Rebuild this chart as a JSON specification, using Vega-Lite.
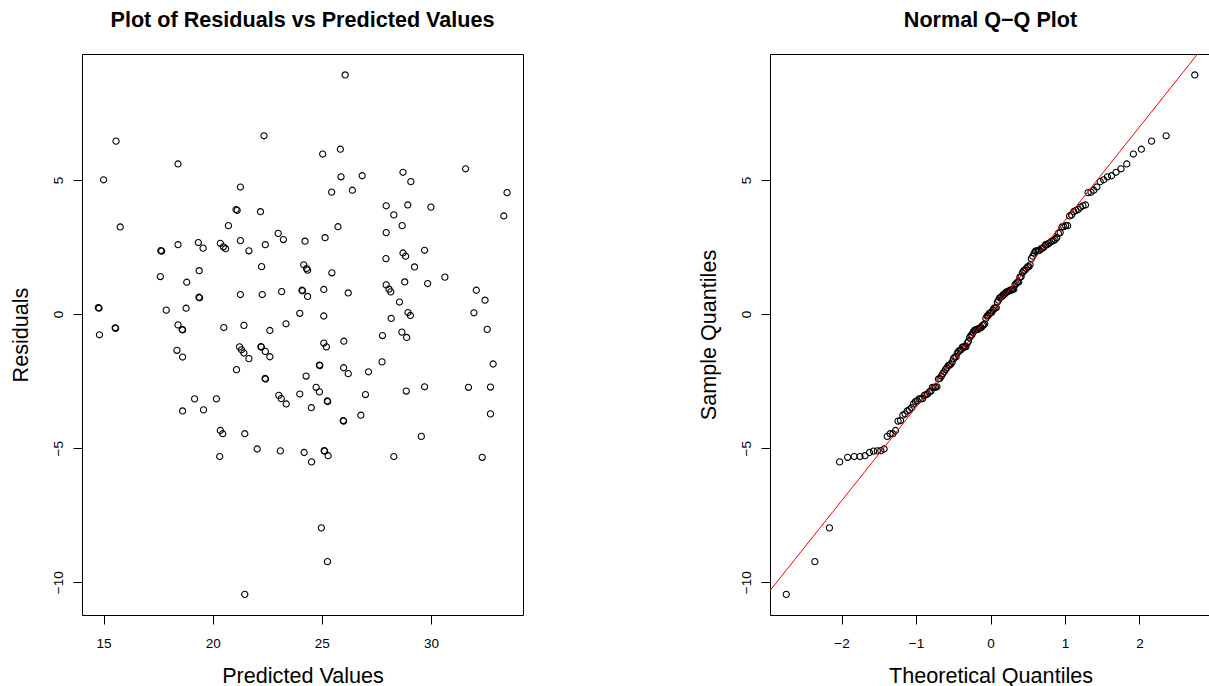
{
  "$schema": "https://vega.github.io/schema/vega-lite/v6.json",
  "background": "white",
  "padding": {"left": 9, "top": 9, "right": 0, "bottom": 0},
  "bounds": "flush",
  "spacing": 247,
  "config": {
    "font": "Liberation Sans",
    "view": {"stroke": "black", "strokeWidth": 1},
    "title": {"font": "Liberation Sans", "fontSize": 21.6, "fontWeight": "bold", "color": "black", "anchor": "middle", "baseline": "alphabetic", "offset": 22},
    "axis": {"domain": false, "grid": false, "ticks": true, "tickColor": "black", "tickWidth": 1, "tickSize": 9, "labelFont": "Liberation Sans", "labelFontSize": 13.5, "labelColor": "black", "labelFlush": false, "labelOverlap": false, "labelBound": false, "titleFont": "Liberation Sans", "titleFontSize": 21.6, "titleFontWeight": "normal", "titleColor": "black", "format": "d"},
    "axisX": {"labelAlign": "center", "labelBaseline": "top", "labelPadding": 12, "titleY": 67, "titleBaseline": "alphabetic", "titleAlign": "center"},
    "axisY": {"labelAngle": -90, "labelAlign": "center", "labelBaseline": "alphabetic", "labelPadding": 11, "titleX": -55, "titleAngle": -90, "titleBaseline": "alphabetic", "titleAlign": "center"}
  },
  "datasets": {
    "resid": [
      {"pred":15.57,"resid":6.45},{"pred":22.35,"resid":6.65},{"pred":18.41,"resid":5.60},{"pred":15.00,"resid":5.01},{"pred":21.27,"resid":4.74},
      {"pred":21.07,"resid":3.90},{"pred":21.12,"resid":3.87},{"pred":22.19,"resid":3.82},{"pred":15.76,"resid":3.25},{"pred":20.72,"resid":3.30},
      {"pred":23.00,"resid":3.01},{"pred":23.24,"resid":2.78},{"pred":24.23,"resid":2.72},{"pred":17.62,"resid":2.37},{"pred":17.66,"resid":2.35},
      {"pred":18.41,"resid":2.59},{"pred":19.34,"resid":2.67},{"pred":19.56,"resid":2.46},{"pred":20.35,"resid":2.64},{"pred":20.49,"resid":2.51},
      {"pred":20.59,"resid":2.44},{"pred":21.27,"resid":2.74},{"pred":21.66,"resid":2.36},{"pred":22.41,"resid":2.59},{"pred":17.60,"resid":1.40},
      {"pred":19.38,"resid":1.62},{"pred":18.81,"resid":1.19},{"pred":22.24,"resid":1.77},{"pred":24.17,"resid":1.84},{"pred":19.37,"resid":0.63},
      {"pred":19.40,"resid":0.61},{"pred":21.27,"resid":0.73},{"pred":22.27,"resid":0.73},{"pred":23.16,"resid":0.84},{"pred":24.09,"resid":0.89},
      {"pred":24.12,"resid":0.87},{"pred":24.35,"resid":0.66},{"pred":14.76,"resid":0.24},{"pred":14.79,"resid":0.22},{"pred":17.87,"resid":0.15},
      {"pred":18.78,"resid":0.22},{"pred":23.99,"resid":0.03},{"pred":15.53,"resid":-0.51},{"pred":15.55,"resid":-0.53},{"pred":18.41,"resid":-0.40},
      {"pred":18.60,"resid":-0.57},{"pred":18.62,"resid":-0.59},{"pred":20.51,"resid":-0.50},{"pred":21.43,"resid":-0.42},{"pred":22.62,"resid":-0.61},
      {"pred":23.36,"resid":-0.36},{"pred":14.81,"resid":-0.77},{"pred":18.36,"resid":-1.35},{"pred":18.62,"resid":-1.60},{"pred":21.23,"resid":-1.22},
      {"pred":21.32,"resid":-1.33},{"pred":21.43,"resid":-1.45},{"pred":21.66,"resid":-1.66},{"pred":21.09,"resid":-2.07},{"pred":22.21,"resid":-1.21},
      {"pred":22.23,"resid":-1.23},{"pred":22.41,"resid":-1.39},{"pred":22.62,"resid":-1.59},{"pred":22.40,"resid":-2.40},{"pred":22.42,"resid":-2.42},
      {"pred":24.28,"resid":-2.31},{"pred":19.17,"resid":-3.16},{"pred":20.17,"resid":-3.16},{"pred":18.62,"resid":-3.61},{"pred":19.58,"resid":-3.57},
      {"pred":23.03,"resid":-3.03},{"pred":23.14,"resid":-3.15},{"pred":23.37,"resid":-3.35},{"pred":23.99,"resid":-2.98},{"pred":20.35,"resid":-4.34},
      {"pred":20.46,"resid":-4.46},{"pred":21.47,"resid":-4.46},{"pred":20.32,"resid":-5.31},{"pred":22.04,"resid":-5.03},{"pred":23.10,"resid":-5.10},
      {"pred":24.19,"resid":-5.16},{"pred":21.47,"resid":-10.45},{"pred":26.07,"resid":8.92},{"pred":25.04,"resid":5.97},{"pred":25.85,"resid":6.15},
      {"pred":31.59,"resid":5.42},{"pred":28.72,"resid":5.29},{"pred":29.08,"resid":4.94},{"pred":25.88,"resid":5.12},{"pred":26.85,"resid":5.16},
      {"pred":25.45,"resid":4.55},{"pred":26.40,"resid":4.62},{"pred":33.49,"resid":4.53},{"pred":33.34,"resid":3.66},{"pred":27.95,"resid":4.04},
      {"pred":28.94,"resid":4.07},{"pred":30.00,"resid":3.99},{"pred":28.30,"resid":3.70},{"pred":28.68,"resid":3.30},{"pred":27.95,"resid":3.04},
      {"pred":25.74,"resid":3.26},{"pred":25.15,"resid":2.85},{"pred":28.72,"resid":2.28},{"pred":28.84,"resid":2.16},{"pred":29.71,"resid":2.38},
      {"pred":27.94,"resid":2.07},{"pred":29.25,"resid":1.76},{"pred":30.64,"resid":1.38},{"pred":24.35,"resid":1.64},{"pred":24.30,"resid":1.70},
      {"pred":25.46,"resid":1.54},{"pred":29.85,"resid":1.14},{"pred":28.80,"resid":1.20},{"pred":25.09,"resid":0.92},{"pred":26.21,"resid":0.79},
      {"pred":27.95,"resid":1.09},{"pred":28.08,"resid":0.93},{"pred":28.16,"resid":0.83},{"pred":28.56,"resid":0.45},{"pred":32.08,"resid":0.89},
      {"pred":32.48,"resid":0.52},{"pred":31.97,"resid":0.05},{"pred":25.09,"resid":-0.07},{"pred":28.95,"resid":0.06},{"pred":29.06,"resid":-0.05},
      {"pred":28.18,"resid":-0.16},{"pred":32.58,"resid":-0.57},{"pred":27.78,"resid":-0.80},{"pred":28.67,"resid":-0.67},{"pred":28.89,"resid":-0.87},
      {"pred":25.09,"resid":-1.08},{"pred":25.21,"resid":-1.22},{"pred":26.01,"resid":-1.01},{"pred":24.89,"resid":-1.90},{"pred":24.91,"resid":-1.92},
      {"pred":26.00,"resid":-2.00},{"pred":26.21,"resid":-2.22},{"pred":27.14,"resid":-2.15},{"pred":27.76,"resid":-1.78},{"pred":24.74,"resid":-2.73},
      {"pred":24.89,"resid":-2.90},{"pred":25.25,"resid":-3.24},{"pred":25.27,"resid":-3.26},{"pred":24.52,"resid":-3.49},{"pred":27.00,"resid":-3.00},
      {"pred":25.98,"resid":-3.97},{"pred":26.00,"resid":-3.99},{"pred":26.79,"resid":-3.77},{"pred":28.87,"resid":-2.87},{"pred":29.71,"resid":-2.71},
      {"pred":31.72,"resid":-2.73},{"pred":32.73,"resid":-2.72},{"pred":32.85,"resid":-1.86},{"pred":32.73,"resid":-3.72},{"pred":29.56,"resid":-4.56},
      {"pred":24.53,"resid":-5.51},{"pred":25.11,"resid":-5.09},{"pred":25.13,"resid":-5.11},{"pred":25.29,"resid":-5.28},{"pred":28.30,"resid":-5.31},
      {"pred":32.35,"resid":-5.34},{"pred":24.98,"resid":-7.97},{"pred":25.26,"resid":-9.23}
    ],
    "qq": [
      {"theo":-2.742,"sample":-10.45},{"theo":-2.358,"sample":-9.23},{"theo":-2.162,"sample":-7.97},{"theo":-2.025,"sample":-5.51},{"theo":-1.918,"sample":-5.34},
      {"theo":-1.829,"sample":-5.31},{"theo":-1.752,"sample":-5.31},{"theo":-1.685,"sample":-5.28},{"theo":-1.625,"sample":-5.16},{"theo":-1.570,"sample":-5.11},
      {"theo":-1.519,"sample":-5.10},{"theo":-1.472,"sample":-5.09},{"theo":-1.428,"sample":-5.03},{"theo":-1.386,"sample":-4.56},{"theo":-1.348,"sample":-4.46},
      {"theo":-1.310,"sample":-4.46},{"theo":-1.275,"sample":-4.34},{"theo":-1.241,"sample":-3.99},{"theo":-1.208,"sample":-3.97},{"theo":-1.177,"sample":-3.77},
      {"theo":-1.147,"sample":-3.72},{"theo":-1.117,"sample":-3.61},{"theo":-1.089,"sample":-3.57},{"theo":-1.062,"sample":-3.49},{"theo":-1.035,"sample":-3.35},
      {"theo":-1.009,"sample":-3.26},{"theo":-0.984,"sample":-3.24},{"theo":-0.959,"sample":-3.16},{"theo":-0.935,"sample":-3.16},{"theo":-0.911,"sample":-3.15},
      {"theo":-0.889,"sample":-3.03},{"theo":-0.866,"sample":-3.00},{"theo":-0.844,"sample":-2.98},{"theo":-0.822,"sample":-2.90},{"theo":-0.800,"sample":-2.87},
      {"theo":-0.780,"sample":-2.73},{"theo":-0.759,"sample":-2.73},{"theo":-0.739,"sample":-2.72},{"theo":-0.719,"sample":-2.71},{"theo":-0.699,"sample":-2.42},
      {"theo":-0.679,"sample":-2.40},{"theo":-0.660,"sample":-2.31},{"theo":-0.641,"sample":-2.22},{"theo":-0.622,"sample":-2.15},{"theo":-0.604,"sample":-2.07},
      {"theo":-0.586,"sample":-2.00},{"theo":-0.567,"sample":-1.92},{"theo":-0.549,"sample":-1.90},{"theo":-0.531,"sample":-1.86},{"theo":-0.514,"sample":-1.78},
      {"theo":-0.497,"sample":-1.66},{"theo":-0.479,"sample":-1.60},{"theo":-0.462,"sample":-1.59},{"theo":-0.445,"sample":-1.45},{"theo":-0.428,"sample":-1.39},
      {"theo":-0.411,"sample":-1.35},{"theo":-0.394,"sample":-1.33},{"theo":-0.378,"sample":-1.23},{"theo":-0.361,"sample":-1.22},{"theo":-0.345,"sample":-1.22},
      {"theo":-0.329,"sample":-1.21},{"theo":-0.312,"sample":-1.08},{"theo":-0.296,"sample":-1.01},{"theo":-0.280,"sample":-0.87},{"theo":-0.264,"sample":-0.80},
      {"theo":-0.249,"sample":-0.77},{"theo":-0.233,"sample":-0.67},{"theo":-0.217,"sample":-0.61},{"theo":-0.201,"sample":-0.59},{"theo":-0.185,"sample":-0.57},
      {"theo":-0.170,"sample":-0.57},{"theo":-0.154,"sample":-0.53},{"theo":-0.139,"sample":-0.51},{"theo":-0.123,"sample":-0.50},{"theo":-0.108,"sample":-0.42},
      {"theo":-0.092,"sample":-0.40},{"theo":-0.077,"sample":-0.36},{"theo":-0.062,"sample":-0.16},{"theo":-0.046,"sample":-0.07},{"theo":-0.031,"sample":-0.05},
      {"theo":-0.015,"sample":0.03},{"theo":0.000,"sample":0.05},{"theo":0.015,"sample":0.06},{"theo":0.031,"sample":0.15},{"theo":0.046,"sample":0.22},
      {"theo":0.062,"sample":0.22},{"theo":0.077,"sample":0.24},{"theo":0.092,"sample":0.45},{"theo":0.108,"sample":0.52},{"theo":0.123,"sample":0.61},
      {"theo":0.139,"sample":0.63},{"theo":0.154,"sample":0.66},{"theo":0.170,"sample":0.73},{"theo":0.185,"sample":0.73},{"theo":0.201,"sample":0.79},
      {"theo":0.217,"sample":0.83},{"theo":0.233,"sample":0.84},{"theo":0.249,"sample":0.87},{"theo":0.264,"sample":0.89},{"theo":0.280,"sample":0.89},
      {"theo":0.296,"sample":0.92},{"theo":0.312,"sample":0.93},{"theo":0.329,"sample":1.09},{"theo":0.345,"sample":1.14},{"theo":0.361,"sample":1.19},
      {"theo":0.378,"sample":1.20},{"theo":0.394,"sample":1.38},{"theo":0.411,"sample":1.40},{"theo":0.428,"sample":1.54},{"theo":0.445,"sample":1.62},
      {"theo":0.462,"sample":1.64},{"theo":0.479,"sample":1.70},{"theo":0.497,"sample":1.76},{"theo":0.514,"sample":1.77},{"theo":0.531,"sample":1.84},
      {"theo":0.549,"sample":2.07},{"theo":0.567,"sample":2.16},{"theo":0.586,"sample":2.28},{"theo":0.604,"sample":2.35},{"theo":0.622,"sample":2.36},
      {"theo":0.641,"sample":2.37},{"theo":0.660,"sample":2.38},{"theo":0.679,"sample":2.44},{"theo":0.699,"sample":2.46},{"theo":0.719,"sample":2.51},
      {"theo":0.739,"sample":2.59},{"theo":0.759,"sample":2.59},{"theo":0.780,"sample":2.64},{"theo":0.800,"sample":2.67},{"theo":0.822,"sample":2.72},
      {"theo":0.844,"sample":2.74},{"theo":0.866,"sample":2.78},{"theo":0.889,"sample":2.85},{"theo":0.911,"sample":3.01},{"theo":0.935,"sample":3.04},
      {"theo":0.959,"sample":3.25},{"theo":0.984,"sample":3.26},{"theo":1.009,"sample":3.30},{"theo":1.035,"sample":3.30},{"theo":1.062,"sample":3.66},
      {"theo":1.089,"sample":3.70},{"theo":1.117,"sample":3.82},{"theo":1.147,"sample":3.87},{"theo":1.177,"sample":3.90},{"theo":1.208,"sample":3.99},
      {"theo":1.241,"sample":4.04},{"theo":1.275,"sample":4.07},{"theo":1.310,"sample":4.53},{"theo":1.348,"sample":4.55},{"theo":1.386,"sample":4.62},
      {"theo":1.428,"sample":4.74},{"theo":1.472,"sample":4.94},{"theo":1.519,"sample":5.01},{"theo":1.570,"sample":5.12},{"theo":1.625,"sample":5.16},
      {"theo":1.685,"sample":5.29},{"theo":1.752,"sample":5.42},{"theo":1.829,"sample":5.60},{"theo":1.918,"sample":5.97},{"theo":2.025,"sample":6.15},
      {"theo":2.162,"sample":6.45},{"theo":2.358,"sample":6.65},{"theo":2.742,"sample":8.92}
    ],
    "qqline": [
      {"theo": -3.3, "sample": -11.496},
      {"theo": 3.3, "sample": 11.512}
    ]
  },
  "hconcat": [
    {
      "title": {"text": "Plot of Residuals vs Predicted Values"},
      "width": 441,
      "height": 561,
      "data": {"name": "resid"},
      "mark": {"type": "point", "shape": "circle", "filled": false, "color": "black", "opacity": 1, "size": 38, "strokeWidth": 1.1},
      "encoding": {
        "x": {"field": "pred", "type": "quantitative", "scale": {"domain": [14.01, 34.22], "nice": false, "zero": false}, "axis": {"values": [15, 20, 25, 30], "title": "Predicted Values"}},
        "y": {"field": "resid", "type": "quantitative", "scale": {"domain": [-11.22, 9.70], "nice": false, "zero": false}, "axis": {"values": [-10, -5, 0, 5], "title": "Residuals"}}
      }
    },
    {
      "title": {"text": "Normal Q−Q Plot"},
      "width": 441,
      "height": 561,
      "layer": [
        {
          "data": {"name": "qq"},
          "mark": {"type": "point", "shape": "circle", "filled": false, "color": "black", "opacity": 1, "size": 38, "strokeWidth": 1.1},
          "encoding": {
            "x": {"field": "theo", "type": "quantitative", "scale": {"domain": [-2.96, 2.96], "nice": false, "zero": false}, "axis": {"values": [-2, -1, 0, 1, 2], "title": "Theoretical Quantiles"}},
            "y": {"field": "sample", "type": "quantitative", "scale": {"domain": [-11.22, 9.70], "nice": false, "zero": false}, "axis": {"values": [-10, -5, 0, 5], "title": "Sample Quantiles"}}
          }
        },
        {
          "data": {"name": "qqline"},
          "mark": {"type": "line", "color": "red", "strokeWidth": 1, "clip": true},
          "encoding": {
            "x": {"field": "theo", "type": "quantitative"},
            "y": {"field": "sample", "type": "quantitative"}
          }
        }
      ]
    }
  ]
}
